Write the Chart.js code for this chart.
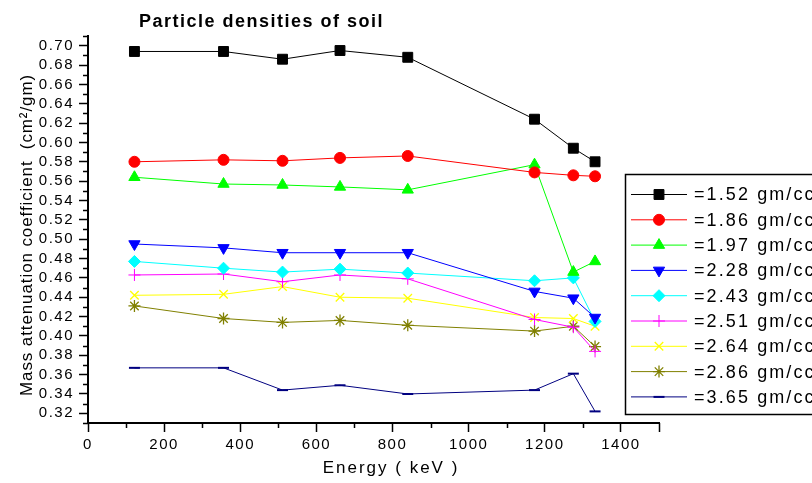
<!DOCTYPE html>
<html>
<head>
<meta charset="utf-8">
<script src="https://cdn.jsdelivr.net/npm/chart.js@4/dist/chart.umd.min.js"></script>
<style>
html,body{margin:0;padding:0;background:#fff;}
#wrap{width:812px;height:483px;position:relative;}
</style>
</head>
<body>
<div id="wrap"><canvas id="c" width="812" height="483"></canvas></div>
<script>
// ---- data ----
const energies = [122, 356, 511, 662, 840, 1173, 1275, 1332];
const seriesLabels = ['=1.52 gm/cc','=1.86 gm/cc','=1.97 gm/cc','=2.28 gm/cc','=2.43 gm/cc','=2.51 gm/cc','=2.64 gm/cc','=2.86 gm/cc','=3.65 gm/cc'];
const d152 = [0.694, 0.694, 0.686, 0.695, 0.688, 0.624, 0.594, 0.580];
const d186 = [0.580, 0.582, 0.581, 0.584, 0.586, 0.569, 0.566, 0.565];
const d197 = [0.564, 0.557, 0.556, 0.554, 0.551, 0.577, 0.466, 0.477];
const d228 = [0.495, 0.491, 0.486, 0.486, 0.486, 0.446, 0.439, 0.419];
const d243 = [0.477, 0.470, 0.466, 0.469, 0.465, 0.457, 0.460, 0.415];
const d251 = [0.463, 0.464, 0.456, 0.463, 0.459, 0.417, 0.409, 0.384];
const d264 = [0.442, 0.443, 0.451, 0.440, 0.439, 0.419, 0.418, 0.410];
const d286 = [0.431, 0.418, 0.414, 0.416, 0.411, 0.405, 0.410, 0.389];
const d365 = [0.367, 0.367, 0.344, 0.349, 0.340, 0.344, 0.361, 0.322];
const xTickValues = [0, 200, 400, 600, 800, 1000, 1200, 1400];
const yTickValues = [0.32,0.34,0.36,0.38,0.40,0.42,0.44,0.46,0.48,0.50,0.52,0.54,0.56,0.58,0.60,0.62,0.64,0.66,0.68,0.70];
const titleText = 'Particle densities of soil';
const xTitle = 'Energy ( keV )';
const yTitle = 'Mass attenuation coefficient  (cm\u00B2/gm)';

// ---- styles ----
const styles = [
  {c:'#000000', ps:'rect', r:7, bw:1},
  {c:'#ff0000', ps:'circle', r:5.5, bw:1},
  {c:'#00ff00', ps:'triangle', r:6.5, bw:1},
  {c:'#0000ff', ps:'triangle', r:6.5, bw:1, rot:180},
  {c:'#00ffff', ps:'rectRot', r:6, bw:1},
  {c:'#ff00ff', ps:'cross', r:6, bw:1},
  {c:'#ffff00', ps:'crossRot', r:6, bw:1.3},
  {c:'#808000', ps:'star', r:6, bw:1.3},
  {c:'#000080', ps:'line', r:5.5, bw:2}
];
const allData = [d152,d186,d197,d228,d243,d251,d264,d286,d365];

const datasets = allData.map((arr,i)=>({
  label: seriesLabels[i],
  data: arr.map((v,j)=>({x:energies[j], y:v})),
  borderColor: styles[i].c,
  backgroundColor: styles[i].c,
  borderWidth: 1,
  pointStyle: styles[i].ps,
  pointRadius: styles[i].r,
  pointHoverRadius: styles[i].r,
  pointBorderWidth: styles[i].bw,
  pointRotation: styles[i].rot || 0,
  tension: 0,
  fill: false
}));

const FONT = '"Liberation Sans", Arial, sans-serif';

const deco = {
  id: 'deco',
  beforeDraw(chart){
    const ctx = chart.ctx;
    try { ctx.letterSpacing = '1.5px'; } catch(e){}
  },
  afterDraw(chart){
    const ctx = chart.ctx;
    const xs = chart.scales.x, ys = chart.scales.y;
    const ca = chart.chartArea;
    ctx.save();
    try { ctx.letterSpacing = '0px'; } catch(e){}
    // minor ticks
    ctx.strokeStyle = '#000'; ctx.lineWidth = 1.5;
    ctx.beginPath();
    for (let k = 31; k <= 71; k++) {
      const v = k/100;
      if (yTickValues.some(t=>Math.abs(t-v)<1e-6)) continue;
      const py = Math.round(ys.getPixelForValue(v)) + 0.5;
      ctx.moveTo(ca.left-5, py); ctx.lineTo(ca.left, py);
    }
    for (let v = 100; v <= 1500; v += 100) {
      if (xTickValues.includes(v)) continue;
      const px = Math.round(xs.getPixelForValue(v)) + 0.5;
      const len = (v === 1500) ? 9 : 5;
      ctx.moveTo(px, ca.bottom); ctx.lineTo(px, ca.bottom+len);
    }
    ctx.stroke();

    // title
    ctx.fillStyle = '#000';
    ctx.font = 'bold 18px ' + FONT;
    try { ctx.letterSpacing = '1.5px'; } catch(e){}
    ctx.textAlign = 'left'; ctx.textBaseline = 'alphabetic';
    ctx.fillText(titleText, 139, 27);

    // x title
    ctx.font = '17px ' + FONT;
    try { ctx.letterSpacing = '2px'; } catch(e){}
    ctx.textAlign = 'center';
    ctx.fillText(xTitle, 391, 473);

    // y title
    ctx.save();
    ctx.translate(32, 235);
    ctx.rotate(-Math.PI/2);
    ctx.font = '17px ' + FONT;
    try { ctx.letterSpacing = '0.9px'; } catch(e){}
    ctx.textAlign = 'center'; ctx.textBaseline = 'alphabetic';
    ctx.fillText(yTitle, 0, 0);
    ctx.restore();

    // legend
    ctx.lineWidth = 1.5; ctx.strokeStyle = '#000';
    ctx.strokeRect(625.5, 174.5, 220, 240);
    const y0 = 194.5, dy = 25.3;
    ctx.font = '18px ' + FONT;
    try { ctx.letterSpacing = '2.1px'; } catch(e){}
    ctx.textAlign = 'left'; ctx.textBaseline = 'middle';
    datasets.forEach((ds,i)=>{
      const y = y0 + i*dy;
      ctx.strokeStyle = ds.borderColor; ctx.lineWidth = 1;
      ctx.beginPath(); ctx.moveTo(631, y); ctx.lineTo(687, y); ctx.stroke();
      ctx.fillStyle = ds.backgroundColor;
      ctx.lineWidth = ds.pointBorderWidth;
      Chart.helpers.drawPoint(ctx, {pointStyle: ds.pointStyle, radius: ds.pointRadius, borderWidth: ds.pointBorderWidth, rotation: ds.pointRotation}, 659, y);
      ctx.fillStyle = '#000';
      ctx.fillText(ds.label, 694, y+1);
    });
    ctx.restore();
  }
};

new Chart(document.getElementById('c'), {
  type: 'line',
  data: { datasets },
  options: {
    responsive: false,
    animation: false,
    devicePixelRatio: 1,
    layout: { padding: { left: 0, right: 153, top: 36, bottom: 0 } },
    plugins: { legend: { display: false }, tooltip: { enabled: false }, title: { display: false } },
    elements: { line: { borderWidth: 1 } },
    scales: {
      x: {
        type: 'linear', min: 0, max: 1500,
        afterBuildTicks: s => { s.ticks = xTickValues.map(v=>({value:v})); },
        afterFit: s => { s.height = 60; },
        grid: { drawOnChartArea: false, tickLength: 9, tickColor: '#000', tickWidth: 1.5 },
        border: { color: '#000', width: 2 },
        ticks: { color: '#000', font: { family: FONT, size: 15 }, padding: 4, maxRotation: 0, autoSkip: false, callback: v => String(v) }
      },
      y: {
        type: 'linear', min: 0.31, max: 0.71,
        afterBuildTicks: s => { s.ticks = yTickValues.map(v=>({value:v})); },
        afterFit: s => { s.width = 88; },
        grid: { drawOnChartArea: false, tickLength: 9, tickColor: '#000', tickWidth: 1.5 },
        border: { color: '#000', width: 2 },
        ticks: { color: '#000', font: { family: FONT, size: 15 }, padding: 5, autoSkip: false, callback: v => Number(v).toFixed(2) }
      }
    }
  },
  plugins: [deco]
});
</script>
</body>
</html>
